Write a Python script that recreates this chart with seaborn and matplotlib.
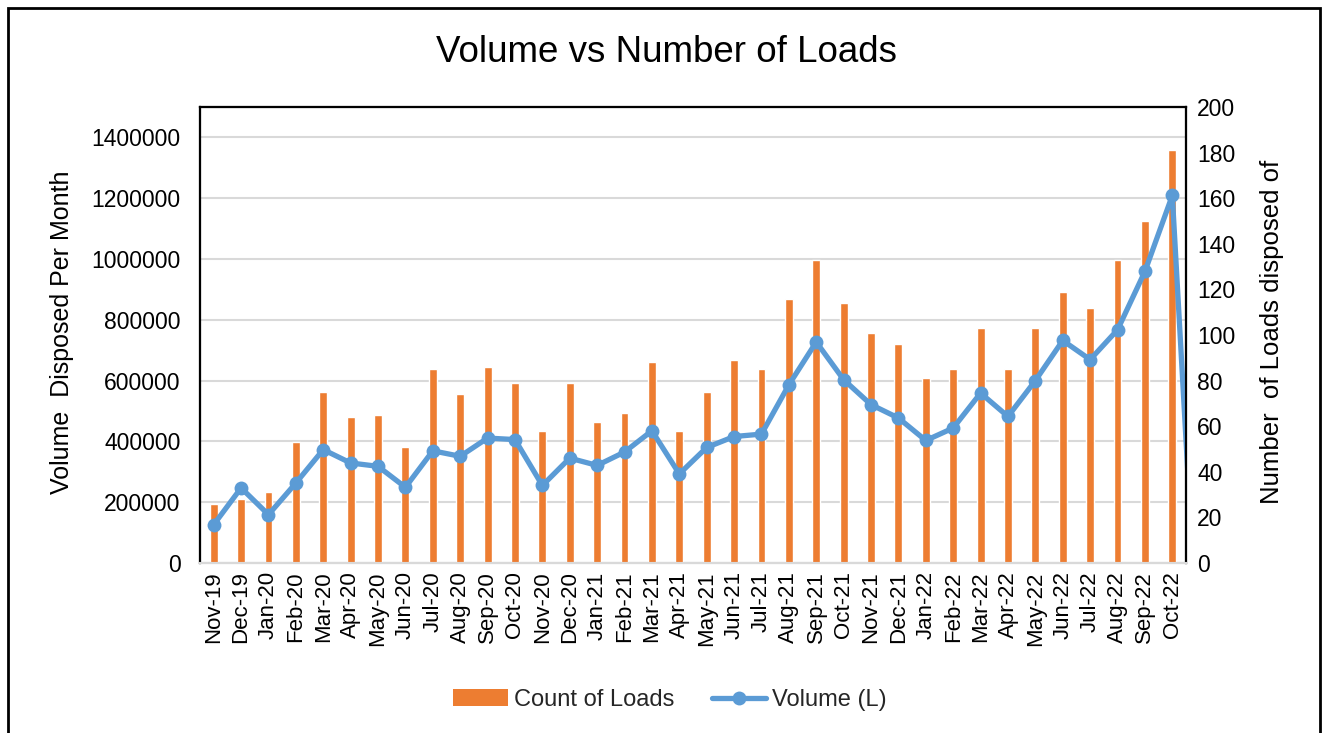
import matplotlib
matplotlib.use("Agg")
import matplotlib.pyplot as plt
from matplotlib.patches import Patch, Rectangle
from matplotlib.lines import Line2D
from matplotlib.ticker import FuncFormatter
import numpy as np
import pandas as pd
import seaborn as sns

months = ["Nov-19", "Dec-19", "Jan-20", "Feb-20", "Mar-20", "Apr-20", "May-20", "Jun-20",
          "Jul-20", "Aug-20", "Sep-20", "Oct-20", "Nov-20", "Dec-20", "Jan-21", "Feb-21",
          "Mar-21", "Apr-21", "May-21", "Jun-21", "Jul-21", "Aug-21", "Sep-21", "Oct-21",
          "Nov-21", "Dec-21", "Jan-22", "Feb-22", "Mar-22", "Apr-22", "May-22", "Jun-22",
          "Jul-22", "Aug-22", "Sep-22", "Oct-22"]

count_of_loads = [26, 28, 31, 53, 75, 64, 65, 51, 85, 74, 86, 79,
                  58, 79, 62, 66, 88, 58, 75, 89, 85, 116, 133, 114,
                  101, 96, 81, 85, 103, 85, 103, 119, 112, 133, 150, 181]

volume_l = [126000, 247000, 159000, 263000, 373000, 329000, 318000, 249000,
            369000, 351000, 411000, 406000, 255000, 345000, 321000, 365000,
            435000, 293000, 380000, 416000, 424000, 586000, 727000, 603000,
            521000, 477000, 403000, 444000, 559000, 482000, 600000, 732000,
            669000, 767000, 959000, 1209000]
# the line runs on past the last month and is cut off by the plot edge
volume_trailing = [-400000]

left_ticks = list(range(0, 1400001, 200000))
right_ticks = list(range(0, 201, 20))

ORANGE = "#ED7D31"
BLUE = "#5B9BD5"
GRID = "#D9D9D9"

sns.set_theme(style="white")
plt.rcParams["font.family"] = ["Liberation Sans", "DejaVu Sans"]

fig = plt.figure(figsize=(13.29, 7.33), dpi=100)
L, R, B, T = 200 / 1329, 1186 / 1329, 1 - 563 / 733, 1 - 107 / 733
ax = fig.add_axes([L, B, R - L, T - B])      # left axis + gridlines
ax2 = ax.twinx()                              # bars on right axis
ax3 = ax.twinx()                              # line on left scale, on top

bars_df = pd.DataFrame({"month": months, "count": count_of_loads})
sns.barplot(data=bars_df, x="month", y="count", ax=ax2, color=ORANGE,
            width=0.29, saturation=1, order=months)

vol_all = volume_l + volume_trailing
line_df = pd.DataFrame({"pos": np.arange(len(vol_all)), "vol": vol_all})
sns.lineplot(data=line_df, x="pos", y="vol", ax=ax3, color=BLUE, linewidth=3.8,
             marker="o", markersize=10, markeredgewidth=0, sort=False)

for a in (ax, ax2, ax3):
    a.set_xlim(-0.5, len(months) - 0.5)
    a.set_xlabel("")
    a.set_ylabel("")

ax.set_ylim(0, 1500000)
ax3.set_ylim(0, 1500000)
ax2.set_ylim(0, 200)

ax.set_yticks(left_ticks)
ax.yaxis.set_major_formatter(FuncFormatter(lambda v, p: f"{int(v)}"))
ax.grid(axis="y", color=GRID, linewidth=1.5)
ax.grid(axis="x", visible=False)
ax2.grid(False)
ax3.grid(False)
ax2.set_yticks(right_ticks)
ax2.yaxis.set_major_formatter(FuncFormatter(lambda v, p: f"{int(v)}"))
ax3.set_yticks([])

ax.set_xticks(range(len(months)))
ax.set_xticklabels(months, rotation=90)
ax2.tick_params(axis="x", bottom=False, labelbottom=False)
ax3.tick_params(axis="x", bottom=False, labelbottom=False)

ax.tick_params(axis="y", length=0, pad=14, labelsize=16.5, colors="black")
ax.tick_params(axis="x", length=0, pad=6, labelsize=16, colors="black")
ax2.tick_params(axis="y", length=0, pad=8, labelsize=16.5, colors="black")

for a in (ax, ax2, ax3):
    for s in ("left", "top", "right"):
        a.spines[s].set_color("black")
        a.spines[s].set_linewidth(1.5)
    a.spines["bottom"].set_color(GRID)
    a.spines["bottom"].set_linewidth(1.5)
    a.patch.set_visible(False)

ax2.set_zorder(1)
ax3.set_zorder(2)
ax.set_zorder(0)

fig.text(666 / 1329, 1 - 52 / 733, "Volume vs Number of Loads", ha="center",
         va="center", fontsize=26.5, color="black")
fig.text(62 / 1329, 1 - 332 / 733, "Volume  Disposed Per Month", ha="center",
         va="center", rotation=90, fontsize=18, color="black")
fig.text(1272 / 1329, 1 - 332 / 733, "Number  of Loads disposed of", ha="center",
         va="center", rotation=90, fontsize=18.5, color="black")

handles = [Patch(facecolor=ORANGE, edgecolor="none"),
           Line2D([0], [0], color=BLUE, linewidth=3.8, marker="o", markersize=10,
                  markeredgewidth=0)]
fig.legend(handles, ["Count of Loads", "Volume (L)"], loc="center",
           bbox_to_anchor=(670 / 1329, 1 - 700 / 733), ncol=2, frameon=False,
           fontsize=17, handlelength=2.3, handletextpad=0.25, columnspacing=1.6)

fig.patches.append(Rectangle((8 / 1329, -0.05), (1320 - 8) / 1329, 1.05 - 8 / 733,
                             transform=fig.transFigure, fill=False,
                             edgecolor="black", linewidth=2))

fig.savefig("out.png", dpi=100, facecolor="white")
